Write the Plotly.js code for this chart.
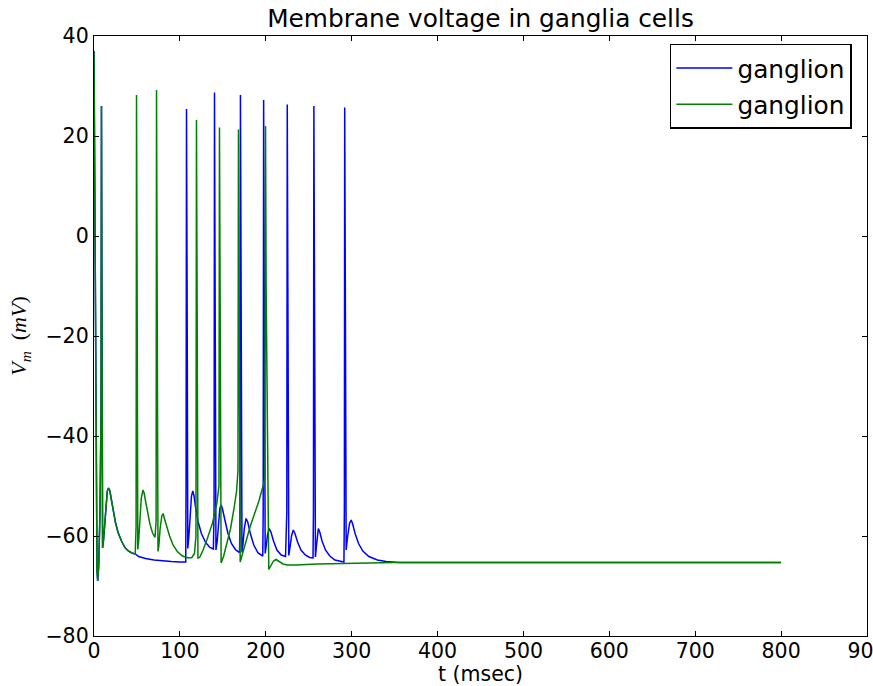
<!DOCTYPE html>
<html>
<head>
<meta charset="utf-8">
<script src="https://cdn.plot.ly/plotly-3.0.1.min.js"></script>
<style>html,body{margin:0;padding:0;background:#fff;}#chart{width:873px;height:686px;}</style>
</head>
<body>
<div id="chart"></div>
<script>
// Shared start (both cells identical until ~48 ms)
const tStart = [0, 0.5, 1.5, 2.5, 3.5, 4.3, 5.5, 7, 8.2, 8.7, 9.4, 10, 11, 12.5, 14, 15.5, 17, 18.5, 20, 22.5, 25, 28, 32, 36, 40, 44, 48];
const vStart = [37, 20, -20, -55, -67, -69, -66, -55, -35, 26, -20, -62.4, -61, -57, -53, -51, -50.4, -51, -52.5, -55, -57.3, -59.3, -61, -62.3, -63, -63.4, -63.6];

// Blue ganglion after 48 ms
const tBlue = [52, 60, 70, 80, 90, 100, 106.8, 107.2, 107.7, 108.4, 109.2, 110.5, 112, 113.5, 115, 116.5, 118, 121, 125, 130, 135, 139,
  139.8, 140.3, 141, 142, 143.5, 145, 146.5, 148, 149.5, 152, 156, 160, 165, 169.5,
  170.0, 170.5, 171.2, 172.3, 173.5, 175, 177, 179, 182, 186, 191, 196.5,
  197.0, 197.5, 198.2, 199.3, 200.5, 202, 204, 206, 209, 213, 218, 223,
  224.5, 225, 225.7, 226.8, 228, 230, 232, 234, 237, 241, 246, 251, 255,
  255.5, 256, 256.7, 257.8, 259, 261.2, 263, 265.5, 269.5, 274.5, 280.5, 286.5, 291,
  291.5, 291.9, 292.6, 293.6, 295, 297.5, 299.4, 301, 304, 308, 313, 320, 330, 340, 355, 800];
const vBlue = [-64.1, -64.5, -64.8, -65, -65.1, -65.2, -65.2, -50, 25.4, -10, -62.5, -60, -55, -52, -51, -52, -54, -57, -59.5, -61.3, -62.3, -62.6,
  -55, 28.7, -10, -62.8, -61, -57, -54.5, -53.8, -54.5, -56.5, -59.5, -61.5, -62.8, -63.3,
  -55, 28.2, -10, -63.3, -61.5, -58.5, -56.5, -57.2, -59.5, -61.8, -63.4, -64,
  -55, 27.2, -10, -63.5, -62, -59.8, -58.5, -59.2, -61, -62.8, -63.8, -64.1,
  -55, 26.3, -10, -63.9, -62.5, -60, -58.8, -59.5, -61.2, -62.8, -63.8, -64.3, -64.4,
  -55, 26, -10, -64.2, -62, -58.5, -59.3, -61, -62.8, -64, -64.8, -65.1, -65.2,
  -55, 25.7, -10, -62.8, -60.5, -57.5, -56.8, -57.5, -59.5, -61.5, -63, -64.1, -64.8, -65.1, -65.3, -65.3];

// Green ganglion after 48 ms
const tGreen = [49.0, 49.5, 50.2, 51, 52, 53.5, 55, 57, 58.5, 60, 62.5, 65, 68, 71,
  72.3, 72.8, 73.5, 74.5, 75.5, 77, 79, 80.5, 82, 85, 88, 92, 97, 103, 110, 114, 117,
  118.7, 119.3, 120, 121, 123, 127, 132, 138, 143, 145.5,
  146.1, 146.8, 148, 151, 155, 159, 163, 166, 167.6,
  168.2, 169, 170.2, 173, 177, 182, 187, 192, 196, 199,
  199.7, 200.4, 203.5, 206, 209, 212, 215, 220, 225, 235, 260, 300, 350, 800];
const vGreen = [-58, 28.2, -10, -62.7, -61, -56, -52.5, -50.8, -51.5, -53, -55.5, -57.5, -59.3, -60.3,
  -57, 29.2, -10, -63.1, -62, -58.5, -56, -55.5, -56.5, -58.5, -60, -61.8, -63.1, -64, -64.4, -64.3, -63.5,
  -60, 23.2, -10, -64.4, -64.3, -62.8, -60.5, -57.4, -53.5, -50,
  21.7, -10, -65.4, -64, -61.5, -58.5, -54.5, -51, -47,
  21.3, -10, -65.2, -63.5, -61, -58, -55.5, -53, -50.5, -48.5,
  22, -10, -66.7, -66, -65, -64.7, -65, -65.6, -65.8, -65.8, -65.6, -65.4, -65.3, -65.3];

const seriesNames = ["ganglion", "ganglion"];
const xTicks = [0, 100, 200, 300, 400, 500, 600, 700, 800, 900];
const yTicks = [-80, -60, -40, -20, 0, 20, 40];

const blueX = tStart.concat(tBlue), blueY = vStart.concat(vBlue);
const greenX = tStart.concat(tGreen), greenY = vStart.concat(vGreen);

const traces = [
  {x: blueX, y: blueY, mode: 'lines', name: seriesNames[0], legendgroup: 'a',
   line: {color: '#0000ff', width: 1.5}},
  {x: greenX, y: greenY, mode: 'lines', name: seriesNames[1], legendgroup: 'b',
   line: {color: '#008000', width: 1.5}}
];

const axisCommon = {
  showgrid: false, zeroline: false, showline: true, linecolor: '#000', linewidth: 1.2,
  mirror: 'ticks', ticks: 'inside', ticklen: 5, tickcolor: '#000', tickwidth: 1,
  ticklabeloverflow: 'allow',
  tickfont: {family: 'DejaVu Sans', size: 20.5, color: '#000'}
};

const layout = {
  width: 873, height: 686,
  margin: {l: 94, r: 6, t: 36, b: 50},
  paper_bgcolor: '#fff', plot_bgcolor: '#fff',
  showlegend: true,
  title: {text: 'Membrane voltage in ganglia cells', font: {family: 'DejaVu Sans', size: 24.8, color: '#000'},
          x: 0.5, xref: 'paper', y: 1 - 18/686, yref: 'container', yanchor: 'middle'},
  xaxis: Object.assign({}, axisCommon, {range: [0, 900], tickvals: xTicks, ticktext: xTicks.map(String),
          ticklabelstandoff: -4,
          title: {text: 't (msec)', font: {family: 'DejaVu Sans', size: 20.5, color: '#000'}, standoff: 0}}),
  yaxis: Object.assign({}, axisCommon, {range: [-80, 40], tickvals: yTicks,
          ticktext: yTicks.map(v => v < 0 ? '\u2212' + Math.abs(v) : String(v)),
          title: {text: '<i>V</i><sub><i>m</i></sub>  (<i>mV</i>)', font: {family: 'Liberation Serif', size: 22, color: '#000'}, standoff: 12}}),
  legend: {x: 0.745, y: 0.987, xanchor: 'left', yanchor: 'top', bgcolor: '#fff',
           bordercolor: '#000', borderwidth: 1.5, tracegroupgap: 1, itemwidth: 56,
           font: {family: 'DejaVu Sans', size: 24.8, color: '#000'}}
};

Plotly.newPlot('chart', traces, layout, {staticPlot: true, displayModeBar: false});
</script>
</body>
</html>
